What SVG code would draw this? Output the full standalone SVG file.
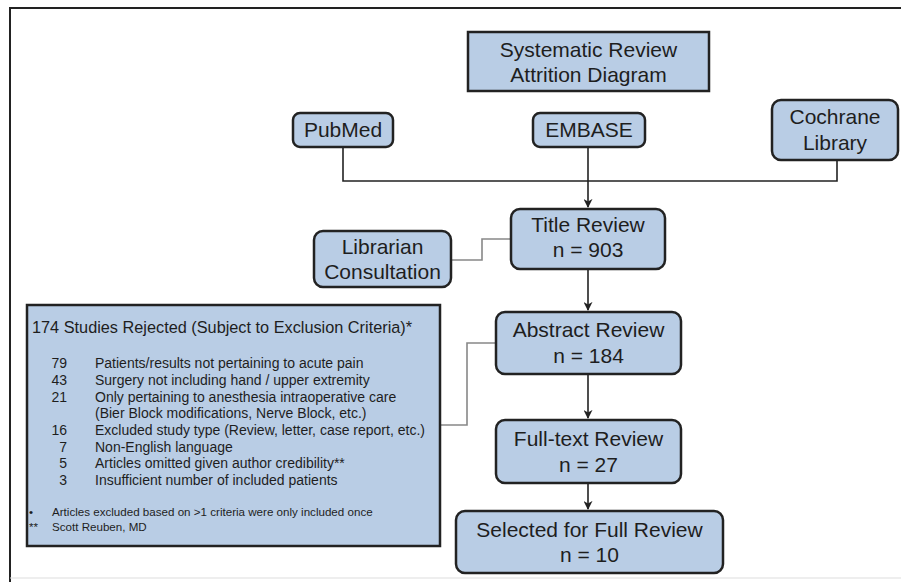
<svg xmlns="http://www.w3.org/2000/svg" width="901" height="582" viewBox="0 0 901 582">
<style>
.box{fill:#b9cde5;stroke:#222;stroke-width:2.5}
.t{font-family:"Liberation Sans",Arial,sans-serif;font-size:21px;fill:#1e1e1e;text-anchor:middle}
.s{font-family:"Liberation Sans",Arial,sans-serif;fill:#1e1e1e}
.c{fill:none;stroke:#222;stroke-width:1.6}
.g{fill:none;stroke:#888;stroke-width:1.6}
</style>
<defs>
<marker id="ah" viewBox="0 0 10 10" refX="9" refY="5" markerWidth="9" markerHeight="9" markerUnits="userSpaceOnUse" orient="auto">
<path d="M0,0 L10,5 L0,10 L3,5 Z" fill="#222"/>
</marker>
</defs>
<rect width="901" height="582" fill="#fff"/>
<path d="M10,582 V8 H901" fill="none" stroke="#222" stroke-width="2"/>
<path d="M10,578 H901" fill="none" stroke="#ddd" stroke-width="1"/>

<g id="connectors">
<path class="c" d="M343,147 V181 H837 V160"/>
<path class="c" d="M588,147 V207" marker-end="url(#ah)"/>
<path class="c" d="M588,269 V310" marker-end="url(#ah)"/>
<path class="c" d="M588,374 V418" marker-end="url(#ah)"/>
<path class="c" d="M588,483 V509" marker-end="url(#ah)"/>
<path class="g" d="M451,260 H482 V239 H511"/>
<path class="g" d="M440,425 H467 V343 H496"/>
</g>

<g id="title">
<rect class="box" x="468" y="32" width="241" height="59"/>
<text class="t" x="588.5" y="57">Systematic Review</text>
<text class="t" x="588.5" y="82">Attrition Diagram</text>
</g>
<g id="pubmed">
<rect class="box" x="293" y="113" width="100" height="34" rx="7"/>
<text class="t" x="343" y="137">PubMed</text>
</g>
<g id="embase">
<rect class="box" x="533" y="113" width="112" height="34" rx="7"/>
<text class="t" x="589" y="137">EMBASE</text>
</g>
<g id="cochrane">
<rect class="box" x="772" y="100" width="126" height="60" rx="9"/>
<text class="t" x="835" y="124">Cochrane</text>
<text class="t" x="835" y="150">Library</text>
</g>
<g id="title-review">
<rect class="box" x="511" y="209" width="154" height="60" rx="9"/>
<text class="t" x="588" y="232">Title Review</text>
<text class="t" x="588" y="257">n = 903</text>
</g>
<g id="librarian">
<rect class="box" x="314" y="231" width="137" height="56" rx="9"/>
<text class="t" x="382.5" y="254">Librarian</text>
<text class="t" x="382.5" y="279">Consultation</text>
</g>
<g id="abstract-review">
<rect class="box" x="496" y="312" width="185" height="62" rx="9"/>
<text class="t" x="588.5" y="337">Abstract Review</text>
<text class="t" x="588.5" y="363">n = 184</text>
</g>
<g id="fulltext-review">
<rect class="box" x="496" y="420" width="185" height="63" rx="9"/>
<text class="t" x="588.5" y="446">Full-text Review</text>
<text class="t" x="588.5" y="472">n = 27</text>
</g>
<g id="selected">
<rect class="box" x="456" y="511" width="267" height="62" rx="9"/>
<text class="t" x="589.5" y="537">Selected for Full Review</text>
<text class="t" x="589.5" y="562">n = 10</text>
</g>
<g id="rejected">
<rect class="box" x="27" y="305" width="413" height="241" stroke-width="2.8"/>
<text class="s" x="32" y="333" font-size="16.3">174 Studies Rejected (Subject to Exclusion Criteria)*</text>
<g font-size="14">
<text class="s" x="67" y="368" text-anchor="end">79</text><text class="s" x="95" y="368">Patients/results not pertaining to acute pain</text>
<text class="s" x="67" y="385" text-anchor="end">43</text><text class="s" x="95" y="385">Surgery not including hand / upper extremity</text>
<text class="s" x="67" y="402" text-anchor="end">21</text><text class="s" x="95" y="402">Only pertaining to anesthesia intraoperative care</text>
<text class="s" x="95" y="418">(Bier Block modifications, Nerve Block, etc.)</text>
<text class="s" x="67" y="435" text-anchor="end">16</text><text class="s" x="95" y="435">Excluded study type (Review, letter, case report, etc.)</text>
<text class="s" x="67" y="452" text-anchor="end">7</text><text class="s" x="95" y="452">Non-English language</text>
<text class="s" x="67" y="468" text-anchor="end">5</text><text class="s" x="95" y="468">Articles omitted given author credibility**</text>
<text class="s" x="67" y="485" text-anchor="end">3</text><text class="s" x="95" y="485">Insufficient number of included patients</text>
</g>
<g font-size="11.6">
<text class="s" x="29" y="516">•</text><text class="s" x="52" y="516">Articles excluded based on &gt;1 criteria were only included once</text>
<text class="s" x="29" y="531">**</text><text class="s" x="52" y="531">Scott Reuben, MD</text>
</g>
</g>
</svg>
